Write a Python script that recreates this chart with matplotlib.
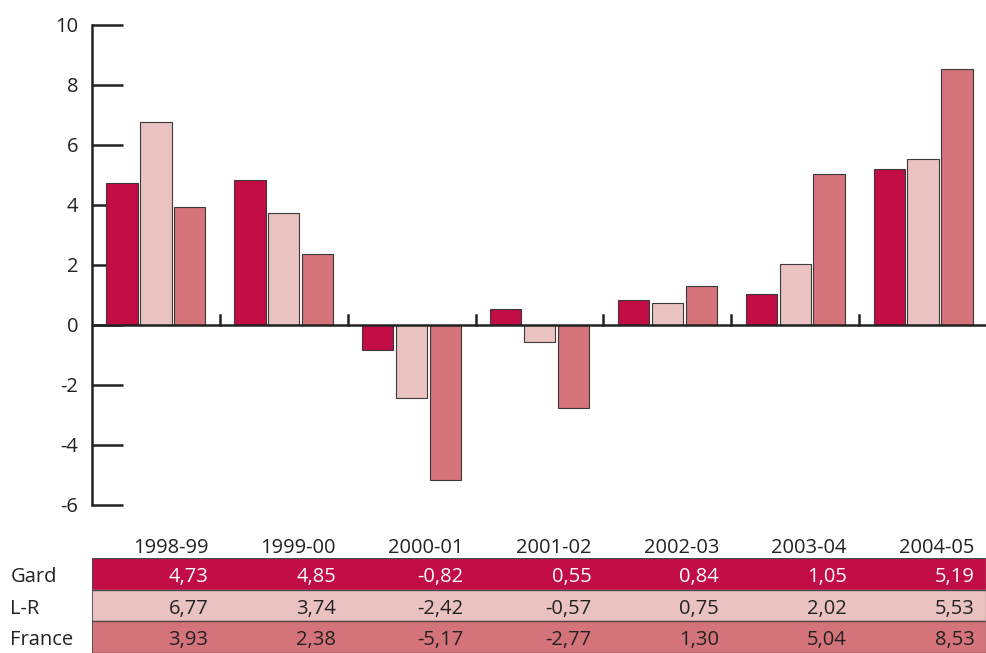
import numpy as np
import matplotlib.pyplot as plt

# data
periods = ["1998-99", "1999-00", "2000-01", "2001-02", "2002-03", "2003-04", "2004-05"]
series_names = ["Gard", "L-R", "France"]
gard = [4.73, 4.85, -0.82, 0.55, 0.84, 1.05, 5.19]
lr = [6.77, 3.74, -2.42, -0.57, 0.75, 2.02, 5.53]
france = [3.93, 2.38, -5.17, -2.77, 1.30, 5.04, 8.53]
yticks = [-6, -4, -2, 0, 2, 4, 6, 8, 10]

colors = ["#c20c45", "#ebc2c2", "#d4737a"]
text_colors = ["white", "#222222", "#222222"]
edge = "#3a3a3a"
fs = 14.5

plt.rcParams['font.family'] = ['Open Sans', 'DejaVu Sans']

W, H = 987, 653
fig = plt.figure(figsize=(W / 100, H / 100), dpi=100)

# main bar axes: x 92..987, y 25..505 px
ax = fig.add_axes([92 / W, (H - 505) / H, 895 / W, 480 / H])
n = len(periods)
x = np.arange(n)
bw = 0.245
step = 0.265
for k, vals in enumerate([gard, lr, france]):
    ax.bar(x + (k - 1) * step, vals, width=bw, color=colors[k],
           edgecolor=edge, linewidth=0.8, zorder=2)

ax.set_xlim(-0.5, n - 0.5)
ax.set_ylim(-6, 10)
ax.set_yticks(yticks)
ax.set_yticklabels([str(t) for t in yticks], fontsize=fs, color="#222222")
ax.tick_params(axis='y', direction='in', length=22, width=1.8, color="#222222", pad=10)
ax.set_xticks([])
for s in ["top", "right", "bottom"]:
    ax.spines[s].set_visible(False)
ax.spines["left"].set_linewidth(1.8)
ax.spines["left"].set_color("#222222")

# zero line with small category separators
ax.axhline(0, color="#222222", linewidth=1.8, zorder=3)
for b in np.arange(0.5, n, 1.0):
    ax.plot([b, b], [0, 0.33], color="#222222", linewidth=1.8, zorder=3, clip_on=False)

# table axes: x 92..986, y 558..653 px
tax = fig.add_axes([92 / W, 0, 894 / W, 95 / H])
tax.set_xlim(0, n)
tax.set_ylim(3, 0)
tax.axis("off")
rows = [gard, lr, france]
for r, vals in enumerate(rows):
    tax.axhspan(r, r + 1, color=colors[r], zorder=1)
    tax.text(-0.64, r + 0.6, series_names[r], ha="left", va="center",
             fontsize=fs, color="#222222", clip_on=False)
    for c, v in enumerate(vals):
        tax.text(c + 0.91, r + 0.6, f"{v:.2f}".replace(".", ","), ha="right",
                 va="center", fontsize=fs, color=text_colors[r])
for r in range(4):
    tax.axhline(r, color="#4a4a4a", linewidth=1.0, zorder=2)
tax.axvline(0, color="#4a4a4a", linewidth=1.2, zorder=2)
tax.axvline(n, color="#888888", linewidth=1.0, zorder=2)
for c, p in enumerate(periods):
    tax.text(c + 0.91, -0.33, p, ha="right", va="center", fontsize=fs,
             color="#222222", clip_on=False)

fig.savefig("out.png", dpi=100)
